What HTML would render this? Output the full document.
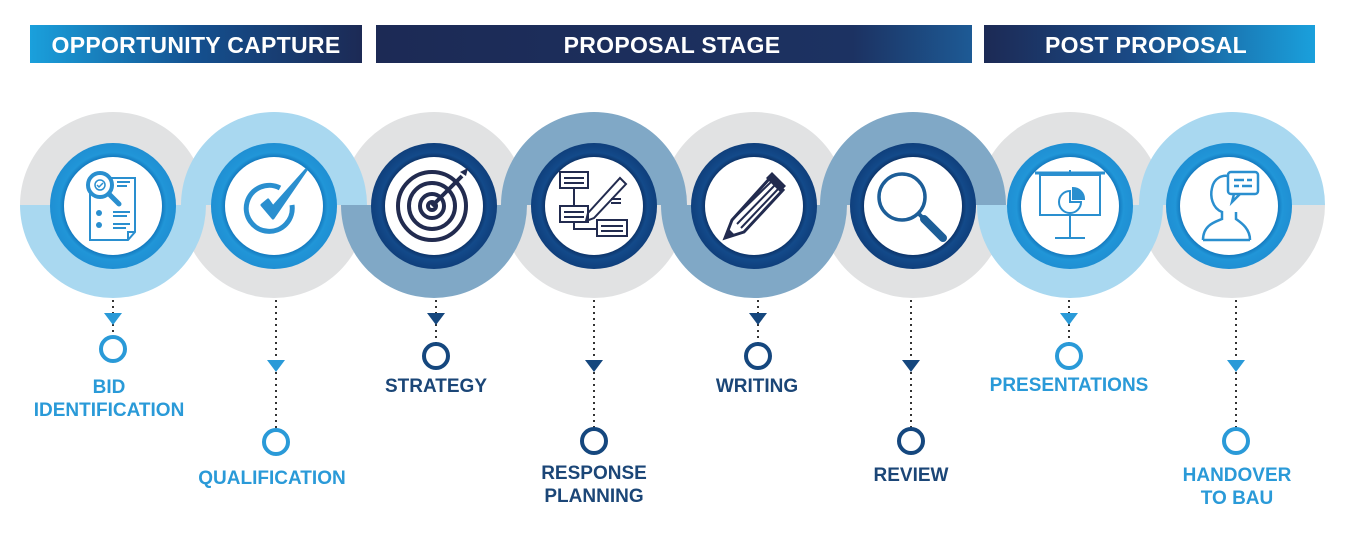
<!DOCTYPE html>
<html><head><meta charset="utf-8"><style>
html,body{margin:0;padding:0;background:#fff;}
svg{display:block;}
text{font-family:"Liberation Sans",sans-serif;font-weight:bold;}
</style></head><body>
<svg width="1350" height="533" viewBox="0 0 1350 533" xmlns="http://www.w3.org/2000/svg">
<defs>
<linearGradient id="h1" x1="0" x2="1"><stop offset="0" stop-color="#1aa0dc"/><stop offset="0.5" stop-color="#14508f"/><stop offset="1" stop-color="#1c2a55"/></linearGradient>
<linearGradient id="h2" x1="0" x2="1"><stop offset="0" stop-color="#1c2a55"/><stop offset="0.8" stop-color="#1c3262"/><stop offset="1" stop-color="#1d5a95"/></linearGradient>
<linearGradient id="h3" x1="0" x2="1"><stop offset="0" stop-color="#1c2a55"/><stop offset="0.45" stop-color="#1a4a86"/><stop offset="1" stop-color="#1aa0dc"/></linearGradient>
<radialGradient id="rb"><stop offset="0.75" stop-color="#0f6fb5"/><stop offset="0.85" stop-color="#2196d8"/><stop offset="1" stop-color="#1f8fd3"/></radialGradient>
<radialGradient id="rd"><stop offset="0.75" stop-color="#0a2c5e"/><stop offset="0.85" stop-color="#134a8a"/><stop offset="1" stop-color="#0f3f7c"/></radialGradient>
</defs>

<rect x="30" y="25" width="332" height="38" fill="url(#h1)"/>
<rect x="376" y="25" width="596" height="38" fill="url(#h2)"/>
<rect x="984" y="25" width="331" height="38" fill="url(#h3)"/>
<text x="196" y="53" font-size="23" fill="#fff" text-anchor="middle" letter-spacing="0.3">OPPORTUNITY CAPTURE</text>
<text x="672" y="53" font-size="23" fill="#fff" text-anchor="middle" letter-spacing="0.3">PROPOSAL STAGE</text>
<text x="1146" y="53" font-size="23" fill="#fff" text-anchor="middle" letter-spacing="0.3">POST PROPOSAL</text>

<g fill="#e1e2e3">
<path d="M20 205 A93 93 0 0 1 206 205Z"/>
<path d="M181 205 A93 93 0 0 0 367 205Z"/>
<path d="M341 205 A93 93 0 0 1 527 205Z"/>
<path d="M501 205 A93 93 0 0 0 687 205Z"/>
<path d="M661 205 A93 93 0 0 1 847 205Z"/>
<path d="M820 205 A93 93 0 0 0 1006 205Z"/>
<path d="M977 205 A93 93 0 0 1 1163 205Z"/>
<path d="M1139 205 A93 93 0 0 0 1325 205Z"/>
</g>
<path d="M20 205 A93 93 0 0 0 206 205Z" fill="#a9d8f0"/>
<path d="M181 205 A93 93 0 0 1 367 205Z" fill="#a9d8f0"/>
<path d="M341 205 A93 93 0 0 0 527 205Z" fill="#80a8c6"/>
<path d="M501 205 A93 93 0 0 1 687 205Z" fill="#80a8c6"/>
<path d="M661 205 A93 93 0 0 0 847 205Z" fill="#80a8c6"/>
<path d="M820 205 A93 93 0 0 1 1006 205Z" fill="#80a8c6"/>
<path d="M977 205 A93 93 0 0 0 1163 205Z" fill="#a9d8f0"/>
<path d="M1139 205 A93 93 0 0 1 1325 205Z" fill="#a9d8f0"/>

<g>
<circle cx="113" cy="206" r="63" fill="url(#rb)"/><circle cx="113" cy="206" r="49" fill="#fff"/>
<circle cx="274" cy="206" r="63" fill="url(#rb)"/><circle cx="274" cy="206" r="49" fill="#fff"/>
<circle cx="434" cy="206" r="63" fill="url(#rd)"/><circle cx="434" cy="206" r="49" fill="#fff"/>
<circle cx="594" cy="206" r="63" fill="url(#rd)"/><circle cx="594" cy="206" r="49" fill="#fff"/>
<circle cx="754" cy="206" r="63" fill="url(#rd)"/><circle cx="754" cy="206" r="49" fill="#fff"/>
<circle cx="913" cy="206" r="63" fill="url(#rd)"/><circle cx="913" cy="206" r="49" fill="#fff"/>
<circle cx="1070" cy="206" r="63" fill="url(#rb)"/><circle cx="1070" cy="206" r="49" fill="#fff"/>
<circle cx="1229" cy="206" r="63" fill="url(#rb)"/><circle cx="1229" cy="206" r="49" fill="#fff"/>
</g>

<g fill="none" stroke="#2a8fcf" stroke-width="2">
<path d="M90 178 H135 V232 L128 240 H90 Z M128 240 V232 H135"/>
<line x1="117" y1="182" x2="130" y2="182"/><line x1="117" y1="186" x2="127" y2="186"/>
<line x1="113" y1="212" x2="130" y2="212"/><line x1="113" y1="216" x2="127" y2="216"/>
<line x1="113" y1="224" x2="130" y2="224"/><line x1="113" y1="228" x2="126" y2="228"/>
</g>
<circle cx="99" cy="213" r="3" fill="#2a8fcf"/><circle cx="99" cy="225" r="3" fill="#2a8fcf"/>
<circle cx="100" cy="185" r="12" fill="#fff" stroke="#2a8fcf" stroke-width="4"/>
<circle cx="100" cy="185" r="5" fill="none" stroke="#2a8fcf" stroke-width="1.5"/>
<path d="M97 185 l2 2 l4 -4" stroke="#2a8fcf" stroke-width="1.5" fill="none"/>
<line x1="109" y1="194" x2="119" y2="204" stroke="#2a8fcf" stroke-width="5" stroke-linecap="round"/>

<path d="M292 205 A23 23 0 1 1 280 188" fill="none" stroke="#2a8fcf" stroke-width="5"/>
<path d="M262 205 L273 218 L306 170 L273 207 L268 200 Z" fill="#2a8fcf" stroke="#2a8fcf" stroke-width="3" stroke-linejoin="round"/>

<g fill="none" stroke="#222b4f" stroke-width="4">
<circle cx="432" cy="206" r="34"/><circle cx="432" cy="206" r="23"/><circle cx="432" cy="206" r="12"/><circle cx="432" cy="206" r="4"/>
<line x1="432" y1="206" x2="462" y2="176"/>
</g>
<path d="M460 172 L468 168 L466 176 Z" fill="#222b4f"/>

<g fill="none" stroke="#222b4f" stroke-width="2">
<rect x="560" y="172" width="28" height="16"/><rect x="560" y="206" width="28" height="16"/><rect x="597" y="220" width="30" height="16"/>
<line x1="564" y1="178" x2="584" y2="178"/><line x1="564" y1="183" x2="584" y2="183"/>
<line x1="564" y1="212" x2="584" y2="212"/><line x1="564" y1="217" x2="584" y2="217"/>
<line x1="601" y1="226" x2="623" y2="226"/><line x1="601" y1="231" x2="623" y2="231"/>
<path d="M574 188 V206 M574 222 V229 H597"/>
<path d="M588 213 L620 178 L626 184 L594 218 L586 221 Z"/>
<line x1="611" y1="199" x2="621" y2="199"/><line x1="611" y1="203" x2="621" y2="203"/>
</g>

<g>
<path d="M725 238 L732 220 L770 178 L783 190 L744 232 Z" fill="#fff" stroke="#222b4f" stroke-width="3"/>
<path d="M732 220 L771 182 M737 224 L775 185 M741 228 L779 188" stroke="#222b4f" stroke-width="2"/>
<path d="M766 178 L772 172 L786 186 L780 192 Z" fill="#222b4f"/>
<path d="M725 238 L728 228 L734 234 Z" fill="#222b4f"/>
</g>

<circle cx="902" cy="197" r="23" fill="none" stroke="#1d5e98" stroke-width="3.5"/>
<line x1="919" y1="214" x2="923" y2="218" stroke="#1d5e98" stroke-width="4"/>
<line x1="924" y1="219" x2="943" y2="238" stroke="#1d5e98" stroke-width="8" stroke-linecap="round"/>

<g fill="none" stroke="#2a8fcf" stroke-width="2">
<line x1="1035" y1="173" x2="1105" y2="173" stroke-width="3"/>
<rect x="1040" y="175" width="60" height="40"/>
<line x1="1070" y1="170" x2="1070" y2="173"/>
<line x1="1070" y1="215" x2="1070" y2="238"/><line x1="1055" y1="238" x2="1085" y2="238"/>
<path d="M1070 191 A11 11 0 1 0 1081 202 H1070 Z"/>
<path d="M1073 188 V199 H1084 A11 11 0 0 0 1073 188 Z" fill="#2a8fcf"/>
</g>

<g fill="none" stroke="#2a8fcf" stroke-width="2.5">
<path d="M1203 240 C1203 225 1215 222 1222 219 V212 C1212 208 1210 196 1212 188 C1214 178 1222 175 1228 176"/>
<path d="M1250 240 C1250 228 1240 222 1236 219 V212"/>
<line x1="1203" y1="240" x2="1250" y2="240"/>
<rect x="1228" y="172" width="30" height="22" rx="3"/>
<path d="M1234 194 L1232 202 L1240 194"/>
<line x1="1234" y1="180" x2="1244" y2="180"/><line x1="1247" y1="180" x2="1252" y2="180"/>
<line x1="1234" y1="186" x2="1239" y2="186"/><line x1="1242" y1="186" x2="1252" y2="186"/>
</g>

<g stroke-width="2" stroke-dasharray="2 4" fill="none" stroke="#333">
<line x1="113" y1="300" x2="113" y2="336"/>
<line x1="276" y1="300" x2="276" y2="428"/>
<line x1="436" y1="300" x2="436" y2="344"/>
<line x1="594" y1="300" x2="594" y2="428"/>
<line x1="758" y1="300" x2="758" y2="344"/>
<line x1="911" y1="300" x2="911" y2="428"/>
<line x1="1069" y1="300" x2="1069" y2="344"/>
<line x1="1236" y1="300" x2="1236" y2="428"/>
</g>
<g>
<path d="M104 313 H122 L113 325Z" fill="#2a9ad8"/>
<path d="M267 360 H285 L276 372Z" fill="#2a9ad8"/>
<path d="M427 313 H445 L436 325Z" fill="#15477e"/>
<path d="M585 360 H603 L594 372Z" fill="#15477e"/>
<path d="M749 313 H767 L758 325Z" fill="#15477e"/>
<path d="M902 360 H920 L911 372Z" fill="#15477e"/>
<path d="M1060 313 H1078 L1069 325Z" fill="#2a9ad8"/>
<path d="M1227 360 H1245 L1236 372Z" fill="#2a9ad8"/>
</g>
<g fill="#fff" stroke-width="4">
<circle cx="113" cy="349" r="12" stroke="#2a9ad8"/>
<circle cx="276" cy="442" r="12" stroke="#2a9ad8"/>
<circle cx="436" cy="356" r="12" stroke="#15477e"/>
<circle cx="594" cy="441" r="12" stroke="#15477e"/>
<circle cx="758" cy="356" r="12" stroke="#15477e"/>
<circle cx="911" cy="441" r="12" stroke="#15477e"/>
<circle cx="1069" cy="356" r="12" stroke="#2a9ad8"/>
<circle cx="1236" cy="441" r="12" stroke="#2a9ad8"/>
</g>
<g font-size="19" text-anchor="middle">
<text x="109" y="393" fill="#2a9ad8">BID</text>
<text x="109" y="416" fill="#2a9ad8">IDENTIFICATION</text>
<text x="272" y="484" fill="#2a9ad8">QUALIFICATION</text>
<text x="436" y="392" fill="#1b4677">STRATEGY</text>
<text x="594" y="479" fill="#1b4677">RESPONSE</text>
<text x="594" y="502" fill="#1b4677">PLANNING</text>
<text x="757" y="392" fill="#1b4677">WRITING</text>
<text x="911" y="481" fill="#1b4677">REVIEW</text>
<text x="1069" y="391" fill="#2a9ad8">PRESENTATIONS</text>
<text x="1237" y="481" fill="#2a9ad8">HANDOVER</text>
<text x="1237" y="504" fill="#2a9ad8">TO BAU</text>
</g>
</svg>
</body></html>
